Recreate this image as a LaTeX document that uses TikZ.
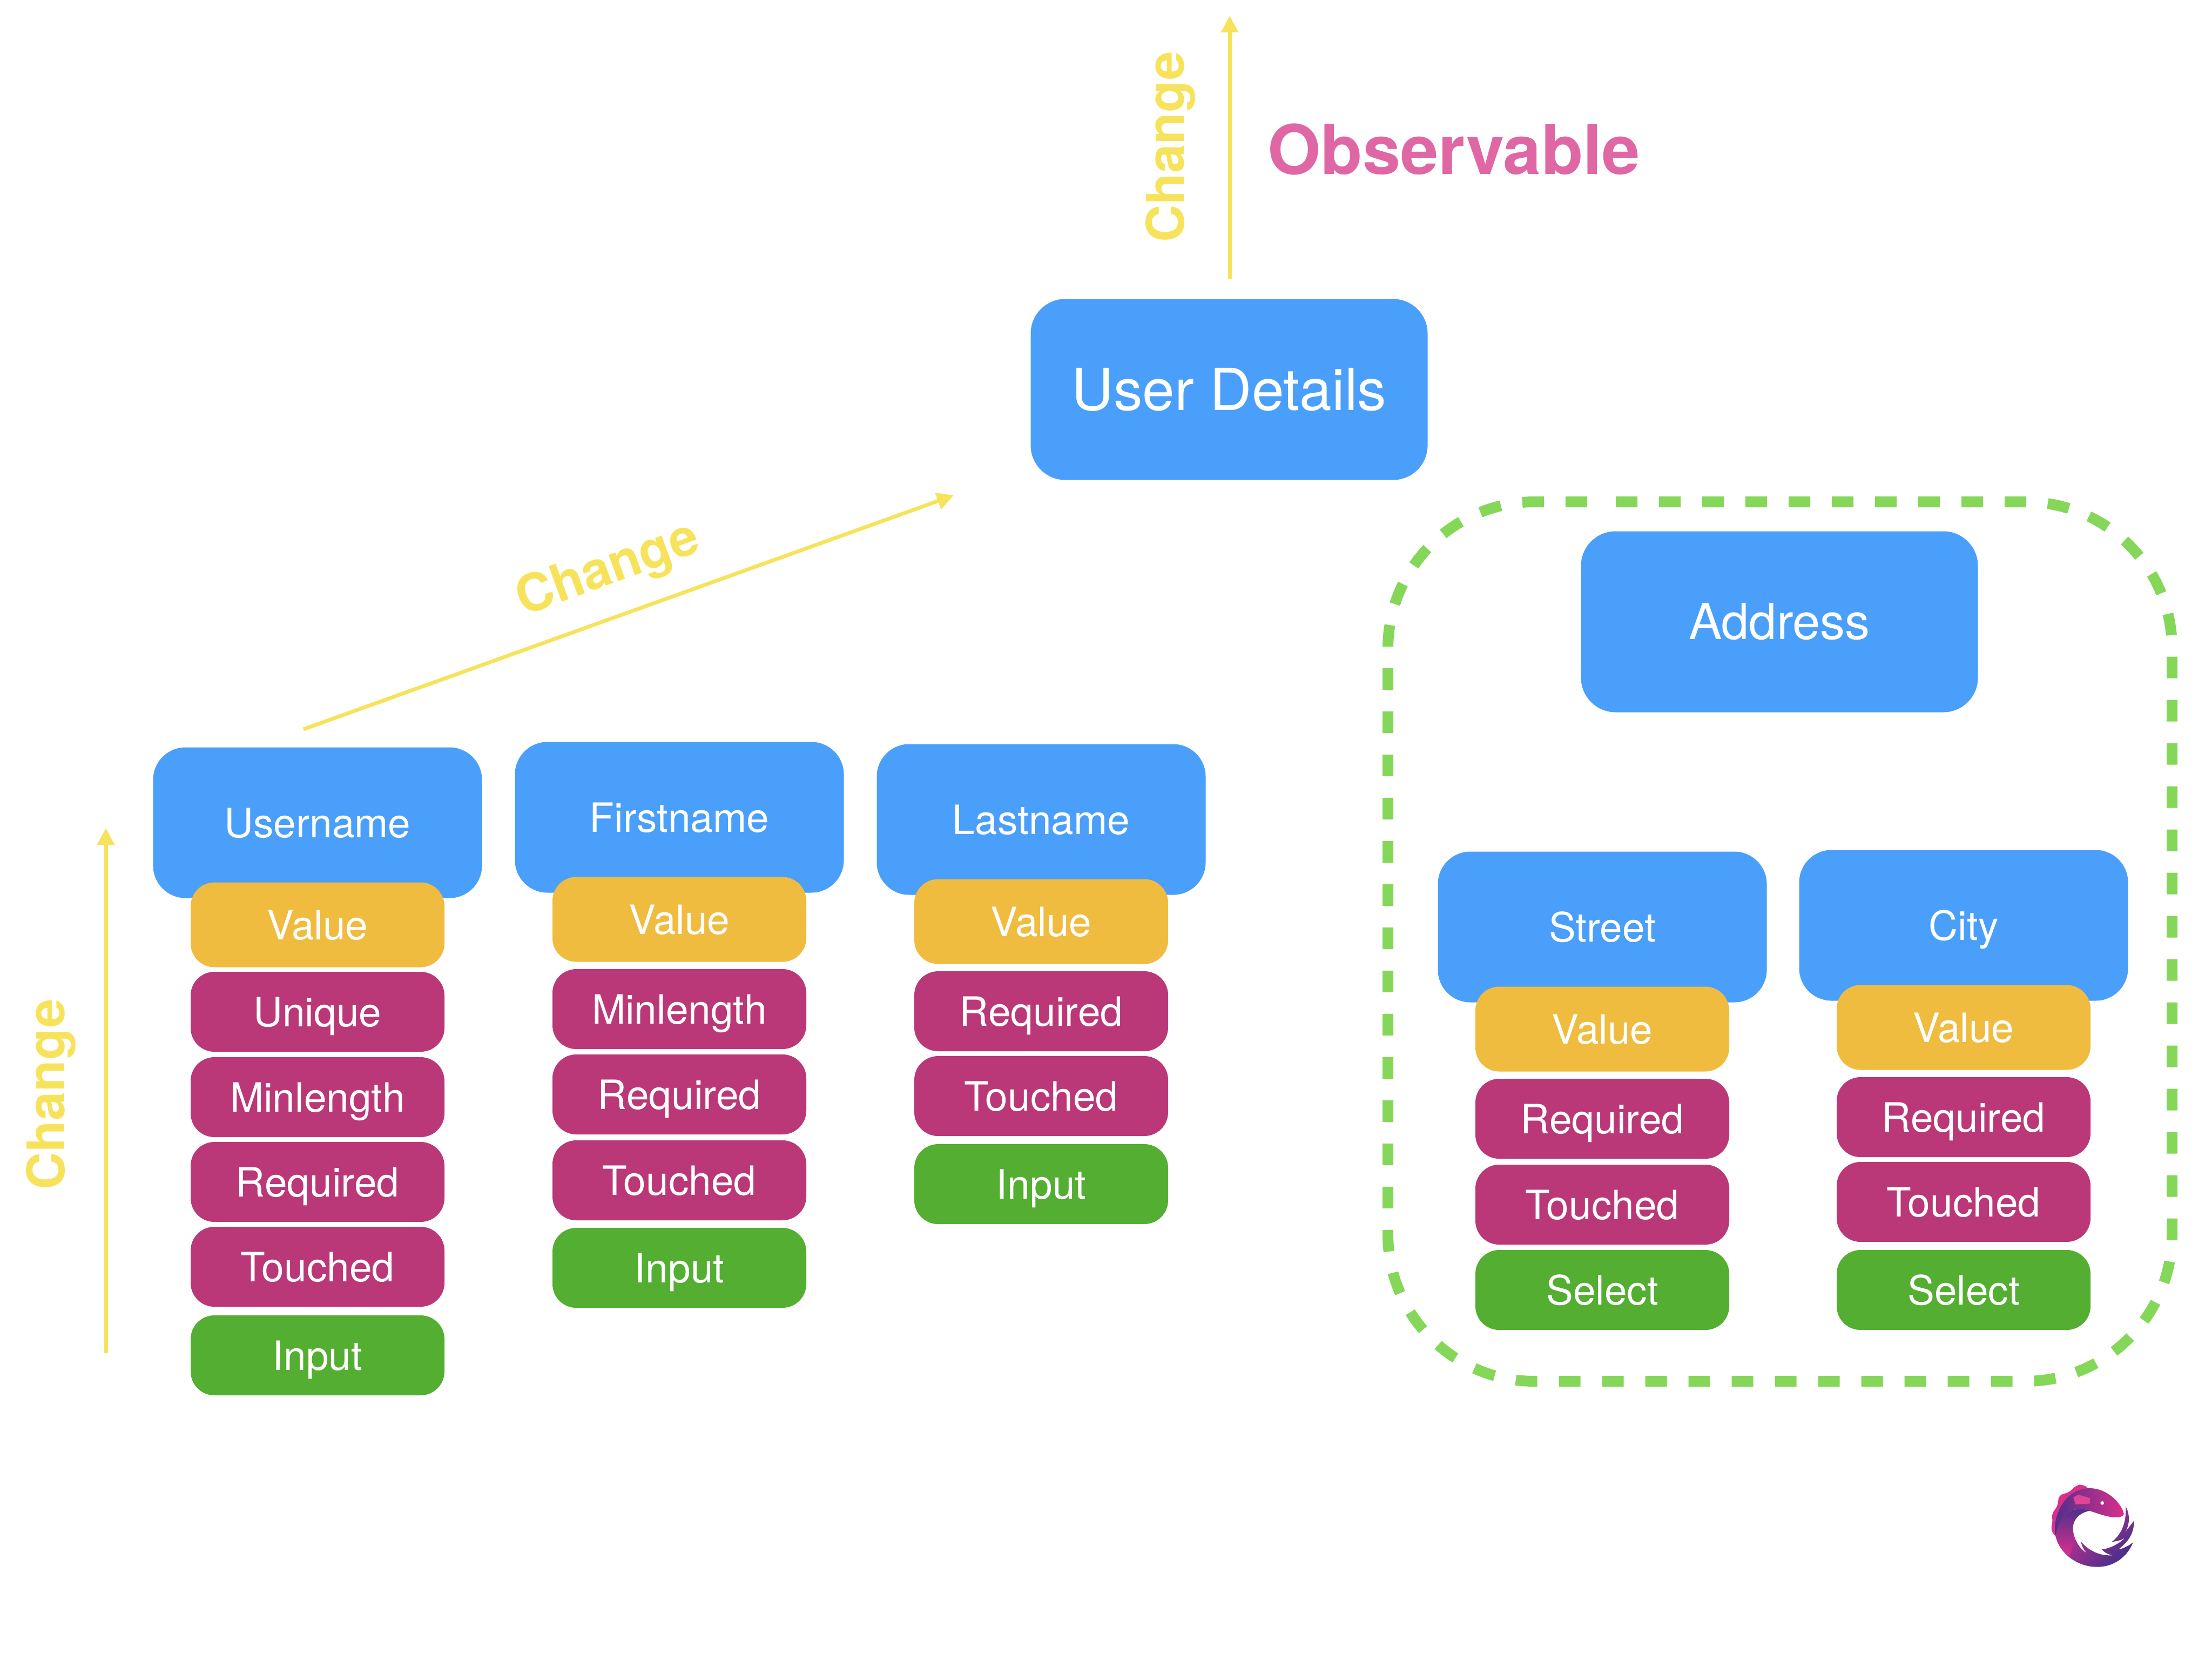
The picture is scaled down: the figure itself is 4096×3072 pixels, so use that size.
\documentclass[tikz,border=0pt]{standalone}
\usepackage{fontspec}
\setmainfont{TeX Gyre Heros}
\usetikzlibrary{arrows.meta}
\definecolor{boxblue}{HTML}{4A9FFA}
\definecolor{boxamber}{HTML}{EFBC40}
\definecolor{boxplum}{HTML}{BA3878}
\definecolor{boxgreen}{HTML}{53AE32}
\definecolor{linkyellow}{HTML}{F7E35B}
\definecolor{obspink}{HTML}{DF67A4}
\definecolor{dashgreen}{HTML}{84D758}
\definecolor{logopink}{HTML}{DC2F8C}
\definecolor{logomid}{HTML}{B02C8D}
\definecolor{logodark}{HTML}{47308C}
\begin{document}
\begin{tikzpicture}[x=.25pt,y=-.25pt,>={Triangle[width=7.75pt,length=7.75pt]},
            every node/.style={inner sep=0pt,text depth=0pt},
            large/.style={fill=boxblue,text=white,rounded corners=16pt,
              minimum width=183.75pt,minimum height=83.75pt},
            field/.style={fill=boxblue,text=white,rounded corners=15pt,text height=13.5pt,
              font=\fontsize{18.7}{20}\selectfont,minimum width=152.25pt,minimum height=69.75pt},
            pill/.style={text=white,rounded corners=11pt,text height=13.5pt,
              font=\fontsize{18.7}{20}\selectfont,minimum width=117.5pt,minimum height=37pt},
            val/.style={pill,fill=boxamber,minimum height=39.25pt},
            rule/.style={pill,fill=boxplum},
            ctrl/.style={pill,fill=boxgreen},
            flow/.style={->,linkyellow,line width=1.75pt},
            flowtext/.style={text=linkyellow,text height=17.5pt,font=\fontsize{24}{26}\bfseries\selectfont}]
            \useasboundingbox(0,0)rectangle(4096,3072);
            \draw[dashgreen,line width=5pt,dash pattern=on 10pt off 10pt,rounded corners=68pt]
              (2992,929)-|(4022,2557)-|(2570,929)--(2952,929);
            \node[large,text height=19pt,font=\fontsize{26.8}{30}\selectfont](details)at(2276,721){User Details};
            \node[large,text height=16pt,font=\fontsize{23}{26}\selectfont](address)at(3295,1151){Address};
            \node[field](username)at(588,1523){Username};
            \node[val](uvalue)at(588,1712){Value};
            \node[rule](uunique)at(588,1873){Unique};
            \node[rule](uminlength)at(588,2031){Minlength};
            \node[rule](urequired)at(588,2188){Required};
            \node[rule](utouched)at(588,2345){Touched};
            \node[ctrl](uinput)at(588,2509){Input};
            \node[field](firstname)at(1258,1513){Firstname};
            \node[val](fvalue)at(1258,1702){Value};
            \node[rule](fminlength)at(1258,1868){Minlength};
            \node[rule](frequired)at(1258,2026){Required};
            \node[rule](ftouched)at(1258,2185){Touched};
            \node[ctrl](finput)at(1258,2347){Input};
            \node[field](lastname)at(1928,1517){Lastname};
            \node[val](lvalue)at(1928,1706){Value};
            \node[rule](lrequired)at(1928,1872){Required};
            \node[rule](ltouched)at(1928,2029){Touched};
            \node[ctrl](linput)at(1928,2192){Input};
            \node[field](street)at(2967,1716){Street};
            \node[val](svalue)at(2967,1905){Value};
            \node[rule](srequired)at(2967,2071){Required};
            \node[rule](stouched)at(2967,2230){Touched};
            \node[ctrl](sselect)at(2967,2388){Select};
            \node[field](city)at(3636,1713){City};
            \node[val](cvalue)at(3636,1902){Value};
            \node[rule](crequired)at(3636,2068){Required};
            \node[rule](ctouched)at(3636,2225){Touched};
            \node[ctrl](cselect)at(3636,2388){Select};
            \coordinate(topstart)at(2277,516);\coordinate(topend)at(2277,29);
            \coordinate(leftstart)at(196,2505);\coordinate(leftend)at(196,1533);
            \coordinate(diagstart)at(562,1350);\coordinate(diagend)at(1766,917);
            \draw[flow](topstart)--(topend);
            \draw[flow](leftstart)--(leftend);
            \draw[flow](diagstart)--(diagend);
            \node[flowtext,rotate=90](changetop)at(2157,272){Change};
            \node[flowtext,rotate=90](changeleft)at(84,2026){Change};
            \node[flowtext,rotate=20](changediag)at(1123,1047){Change};
            \node[text=obspink,text height=22.5pt,font=\fontsize{31.6}{34}\bfseries\selectfont](observable)at(2692,277){Observable};
            \begin{scope}[x=.08333pt,y=-.08333pt,shift={(925pt,-670pt)}]
              \fill[logopink,rounded corners=2pt](320,500)--(290,450)--(305,410)--(295,370)--(333,320)
                --(335,265)--(400,245)--(432,208)--(470,203)--(510,230)--(400,350)--cycle;
              \path[left color=logodark,middle color=logomid,right color=logopink](320,495)
                ..controls(295,400)and(360,225)..(510,225)
                ..controls(600,225)and(680,300)..(698,365)
                ..controls(700,385)and(660,390)..(630,385)
                ..controls(590,380)and(540,360)..(505,350)
                ..controls(440,325)and(340,340)..(320,495)--cycle;
              \fill[logopink!90!white](418,275)--(445,260)--(510,280)--(510,310)--(430,315)--cycle;
              \fill[white](578,307)circle[radius=10];
              \path[left color=logopink,middle color=logopink,right color=logodark,shading angle=45](320,495)
                ..controls(345,590)and(440,662)..(550,662)
                ..controls(640,662)and(715,610)..(750,525)
                ..controls(725,545)and(695,560)..(668,565)
                ..controls(710,530)and(755,490)..(755,405)
                --(705,470)..controls(735,420)and(730,365)..(708,325)
                ..controls(715,400)and(690,480)..(632,522)
                ..controls(665,520)and(690,510)..(705,500)
                ..controls(670,535)and(620,560)..(575,565)
                ..controls(600,590)and(620,595)..(640,597)
                ..controls(590,602)and(520,590)..(460,522)
                ..controls(465,550)and(480,575)..(495,587)
                ..controls(440,555)and(415,490)..(415,440)
                ..controls(420,385)and(470,355)..(510,350)
                ..controls(440,325)and(340,340)..(320,495)--cycle;
              \path[top color=logodark,middle color=logomid,bottom color=logopink](320,495)
                ..controls(335,545)and(360,580)..(395,600)
                ..controls(420,560)and(415,490)..(415,440)
                ..controls(420,385)and(470,355)..(510,350)
                ..controls(440,325)and(340,340)..(320,495)--cycle;
            \end{scope}
        \end{tikzpicture}
\end{document}
